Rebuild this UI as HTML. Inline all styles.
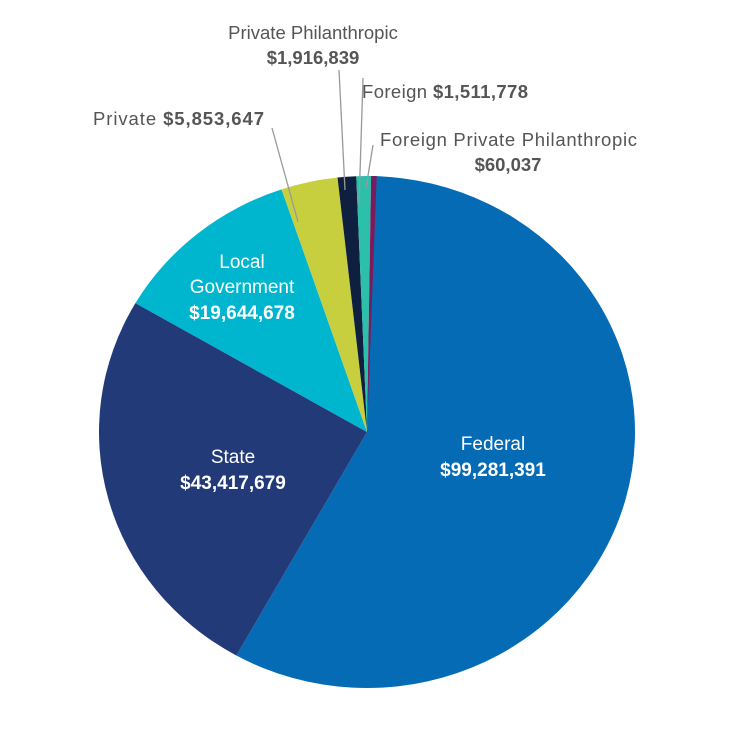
<!DOCTYPE html>
<html><head><meta charset="utf-8"><style>
body{margin:0;background:#fff;}
svg text{font-family:"Liberation Sans",sans-serif;}
</style></head><body>
<svg id="chart" width="742" height="727" viewBox="0 0 742 727" xmlns="http://www.w3.org/2000/svg">
<g id="slices"></g>
<g id="leaders" stroke="#999" stroke-width="1.3" fill="none">
<line x1="298" y1="222" x2="272" y2="128"/>
<line x1="345" y1="190" x2="339" y2="70"/>
<line x1="359" y1="205" x2="363" y2="78"/>
<line x1="366" y1="188" x2="373" y2="145"/>
</g>
<g font-size="18.5" fill="#555">
<text x="264" y="125" text-anchor="end" textLength="171">Private <tspan font-weight="bold">$5,853,647</tspan></text>
<text x="313" y="39" text-anchor="middle">Private Philanthropic</text>
<text x="313" y="64" text-anchor="middle" font-weight="bold">$1,916,839</text>
<text x="362" y="98" textLength="166">Foreign <tspan font-weight="bold">$1,511,778</tspan></text>
<text x="380" y="146" textLength="257">Foreign Private Philanthropic</text>
<text x="508" y="171" text-anchor="middle" font-weight="bold">$60,037</text>
</g>
<g font-size="19" fill="#fff" text-anchor="middle">
<text x="493" y="450">Federal</text>
<text x="493" y="476" font-weight="bold">$99,281,391</text>
<text x="233" y="463">State</text>
<text x="233" y="489" font-weight="bold">$43,417,679</text>
<text x="242" y="268">Local</text>
<text x="242" y="293">Government</text>
<text x="242" y="319" font-weight="bold">$19,644,678</text>
</g>
</svg>
<script>
const categories = ["Federal","State","Local Government","Private","Private Philanthropic","Foreign","Foreign Private Philanthropic"];
const values = [99281391,43417679,19644678,5853647,1916839,1511778,60037];
const colors = ["#066bb5","#233a79","#00b6cf","#c8cf3e","#0f1f3f","#2cbfaa","#7b1a5c"];
const cx=367, cy=432, rx=268, ry=256;
const total = values.reduce((a,b)=>a+b,0);
const minDeg = 1.2;
const g = document.getElementById('slices');
let a = 1.0;
function pt(deg){const r=(deg-90)*Math.PI/180;return [cx+rx*Math.cos(r), cy+ry*Math.sin(r)];}
values.forEach((v,i)=>{
  const span = Math.max(v/total*360, minDeg);
  const a2 = a+span;
  const p1=pt(a), p2=pt(a2);
  const large = (a2-a)>180?1:0;
  const path=document.createElementNS("http://www.w3.org/2000/svg","path");
  path.setAttribute('d',`M${cx},${cy} L${p1[0]},${p1[1]} A${rx},${ry} 0 ${large} 1 ${p2[0]},${p2[1]} Z`);
  path.setAttribute('fill',colors[i]);
  
  
  g.appendChild(path);
  a = a2;
});
</script>
</body></html>
